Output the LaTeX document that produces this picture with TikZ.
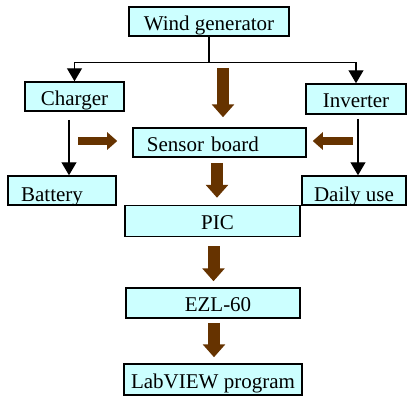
\documentclass[tikz,border=0pt]{standalone}
\usepackage{fontspec}
\setmainfont{Liberation Serif}
\usetikzlibrary{arrows.meta, calc}

\definecolor{boxcyan}{HTML}{CCFFFF}
\definecolor{flowbrown}{HTML}{663300}

\begin{document}
\begin{tikzpicture}[
    x=1bp, y=-1bp,
    box/.style={rectangle, draw, line width=1.5bp, fill=boxcyan, inner sep=0pt, text height=17bp, text depth=0pt, font=\fontsize{21bp}{25bp}\selectfont},
    line/.style={-{Triangle[width=15bp, length=13bp]}, line width=1.3bp},
    fatarrow/.style={-{Triangle[width=22bp, length=13bp]}, draw=flowbrown, line width=12bp},
    sidearrow/.style={-{Triangle[width=17bp, length=10bp]}, draw=flowbrown, line width=8bp}
]
\useasboundingbox (0,0) rectangle (407,397);

% Row 1: source
\node[box, minimum width=160bp, minimum height=29bp] (wind) at (209,21.5) {Wind generator};

% Row 2: charger and inverter
\node[box, minimum width=99bp, minimum height=29bp] (charger) at (74.5,96.5) {Charger};
\node[box, minimum width=100bp, minimum height=30bp] (inverter) at (356,99) {Inverter};

% Row 3: sensor board
\node[box, minimum width=173bp, minimum height=29bp, text width=173bp, align=left] (sensor) at (219.5,142.5) {\hspace*{14bp}Sensor board};

% Row 4: loads
\node[box, minimum width=108bp, minimum height=29bp, text height=21bp] (battery) at (62,190.5) {Battery\hspace*{20bp}};
\node[box, minimum width=104bp, minimum height=29bp, text height=21bp] (daily) at (354,190.5) {Daily use};

% Measuring chain
\node[box, minimum width=175bp, minimum height=31bp] (pic) at (212.5,221) {\hspace*{10bp}PIC};
\node[box, minimum width=174bp, minimum height=30bp] (ezl) at (213,303) {\hspace*{10bp}EZL-60};
\node[box, minimum width=178bp, minimum height=31bp] (labview) at (213,379.5) {LabVIEW program};

% Power branches
\draw[line] (wind.south) -- ++(0,26) -| (charger.north);
\draw[line] (wind.south) -- ++(0,26) -| (inverter.north);
\draw[line, shorten <=8bp] ([xshift=-5.5bp]charger.south) -- ([xshift=-5.5bp]charger.south |- battery.north);
\draw[line, shorten <=4bp] ([xshift=2bp]inverter.south) -- ([xshift=2bp]inverter.south |- daily.north);

% Data flow to the sensor board
\coordinate (chgtap) at (78,141);
\coordinate (invtap) at (353,141);
\draw[fatarrow, shorten <=31bp, shorten >=10bp] ([xshift=14bp]wind.south) -- ([xshift=14bp]wind.south |- sensor.north);
\draw[sidearrow, shorten >=15bp] (chgtap) -- (chgtap -| sensor.west);
\draw[sidearrow, shorten >=6bp] (invtap) -- (invtap -| sensor.east);

% Data flow down the chain
\draw[fatarrow, shorten <=5bp, shorten >=7bp] ([xshift=-2.5bp]sensor.south) -- ([xshift=-2.5bp]sensor.south |- pic.north);
\draw[fatarrow, shorten <=9bp, shorten >=6bp] ([xshift=1bp]pic.south) -- ([xshift=1bp]pic.south |- ezl.north);
\draw[fatarrow, shorten <=4bp, shorten >=6bp] ([xshift=1bp]ezl.south) -- ([xshift=1bp]ezl.south |- labview.north);

\end{tikzpicture}
\end{document}
